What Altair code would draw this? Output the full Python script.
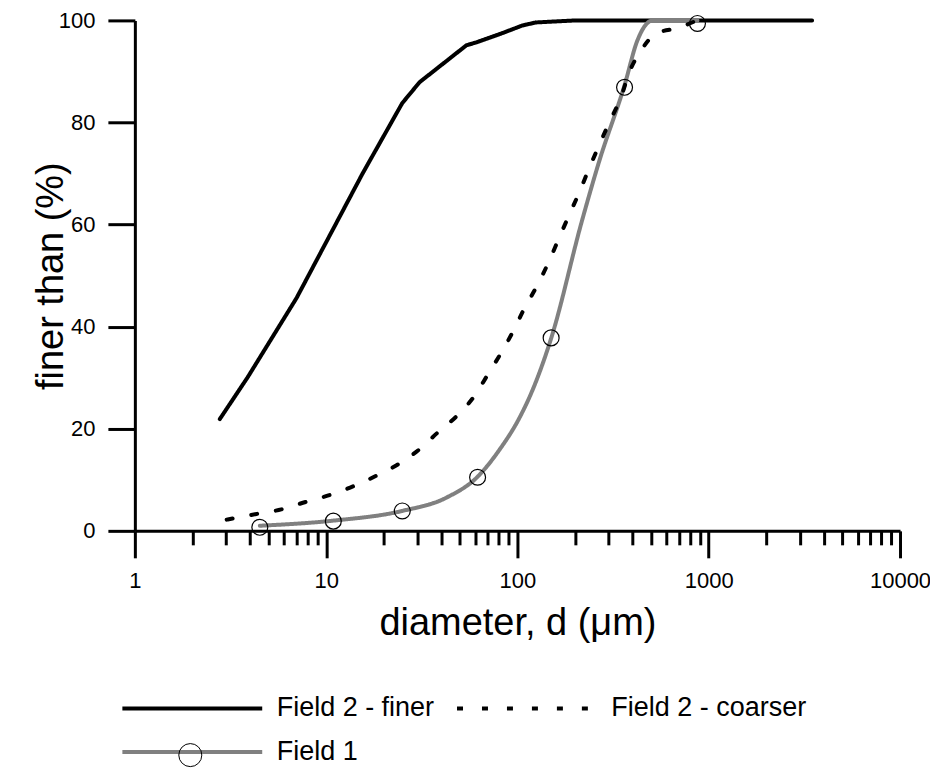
import altair as alt
import pandas as pd

# legend order (column-major fill): finer, Field 1 | coarser
SERIES = ["Field 2 - finer", "Field 1", "Field 2 - coarser"]

# Field 2 - finer (solid black)
fine_d = [2.78, 3.89, 7.0, 15.5, 25.0, 30.8, 54.0, 61.0, 80.6, 106.0, 125.0, 203.0, 3470.0]
fine_v = [21.9, 30.1, 45.6, 70.0, 83.8, 87.9, 95.1, 95.7, 97.3, 99.0, 99.6, 100.0, 100.0]

# Field 2 - coarser (dashed black)
coarse_d = [3.02, 4.32, 5.83, 7.87, 10.4, 13.8, 18.3, 24.2, 30.8, 38.4, 48.8, 59.5, 70.2,
            82.3, 94.6, 108.8, 127, 147, 166, 186, 211, 237, 267, 303, 348, 385, 443,
            529, 700, 855]
coarse_v = [2.2, 3.3, 4.2, 5.7, 7.0, 8.7, 10.8, 13.2, 16.0, 19.3, 22.7, 26.4, 30.7,
            34.9, 39.0, 43.6, 48.1, 53.0, 57.6, 61.8, 66.4, 71.0, 75.5, 80.1, 85.0, 89.9,
            94.1, 97.4, 98.6, 99.9]

# Field 1 (grey fitted curve)
field1_d = [4.5, 10.9, 25, 42.5, 61.9, 80.6, 102, 120, 150, 218, 267, 363, 424, 509, 873]
field1_v = [1.0, 2.0, 3.9, 6.5, 10.6, 15.9, 22.0, 27.6, 37.7, 60.9, 72.3, 87.3, 96.1, 100, 100]

# Field 1 measured points (open circles)
marker_d = [4.5, 10.9, 25, 61.9, 150, 363, 873]
marker_v = [0.7, 1.9, 3.9, 10.5, 37.8, 86.9, 99.4]

x_major = [1, 10, 100, 1000, 10000]
x_minor = [2, 3, 4, 5, 6, 7, 8, 9,
           20, 30, 40, 50, 60, 70, 80, 90,
           200, 300, 400, 500, 600, 700, 800, 900,
           2000, 3000, 4000, 5000, 6000, 7000, 8000, 9000]
y_ticks = [0, 20, 40, 60, 80, 100]

df_fine = pd.DataFrame({"d": fine_d, "v": fine_v, "series": "Field 2 - finer"})
df_coarse = pd.DataFrame({"d": coarse_d, "v": coarse_v, "series": "Field 2 - coarser"})
df_f1 = pd.DataFrame({"d": field1_d, "v": field1_v, "series": "Field 1"})
df_mark = pd.DataFrame({"d": marker_d, "v": marker_v, "marker": "Field 1"})

FONT = "Liberation Sans"

xscale = alt.Scale(type="log", domain=[1, 10000], nice=False)
yscale = alt.Scale(domain=[0, 100], nice=False)
color_scale = alt.Scale(domain=SERIES, range=["#000000", "#808080", "#000000"])
dash_scale = alt.Scale(domain=SERIES, range=[[1, 0], [1, 0], [6, 19]])

major_axis = alt.Axis(values=x_major, format="d", orient="bottom", tickSize=27, tickWidth=3,
                      domainWidth=3, tickColor="black", domainColor="black",
                      labelFontSize=22, labelPadding=13, labelColor="black", labelFont=FONT,
                      labelFlush=False, title="diameter, d (\u03bcm)", titleFontSize=38,
                      titleFontWeight="normal", titleColor="black", titleFont=FONT,
                      titlePadding=13, grid=False)
minor_axis = alt.Axis(values=x_minor, orient="bottom", tickSize=14, tickWidth=3,
                      tickColor="black", domain=False, labels=False, title="", grid=False)
yaxis = alt.Axis(values=y_ticks, tickSize=27, tickWidth=3, domainWidth=3, tickColor="black",
                 domainColor="black", labelFontSize=22, labelPadding=13, labelColor="black",
                 labelFont=FONT, title="finer than (%)", titleFontSize=38,
                 titleFontWeight="normal", titleColor="black", titleFont=FONT,
                 titleX=-64, grid=False)

legA = alt.Legend(title=None, orient="none", legendX=-16, legendY=675, columns=2,
                  columnPadding=14, rowPadding=16, symbolType="M-1,0H13", symbolSize=400,
                  symbolStrokeWidth=4, labelFontSize=27, labelOffset=131, labelFont=FONT,
                  labelColor="black", labelLimit=0, padding=0)
legB = alt.Legend(title=None, orient="none", legendX=43, legendY=723, symbolType="circle",
                  symbolSize=531, symbolStrokeWidth=1, symbolStrokeColor="black",
                  symbolFillColor="transparent", labelExpr="''", padding=0)


def line_layer(df, axis, interp):
    return alt.Chart(df).mark_line(strokeWidth=4, strokeCap="round", interpolate=interp).encode(
        x=alt.X("d:Q", scale=xscale, axis=axis),
        y=alt.Y("v:Q", scale=yscale, axis=yaxis),
        color=alt.Color("series:N", scale=color_scale, legend=legA),
        strokeDash=alt.StrokeDash("series:N", scale=dash_scale, legend=legA),
    )


l_fine = line_layer(df_fine, major_axis, "linear")
l_f1 = line_layer(df_f1, None, "monotone")
l_coarse = line_layer(df_coarse, None, "monotone")

pts = alt.Chart(df_mark).mark_point(filled=False, size=254, strokeWidth=1.2, color="black",
                                    opacity=1).encode(
    x=alt.X("d:Q", scale=xscale, axis=minor_axis),
    y=alt.Y("v:Q", scale=yscale, axis=yaxis),
    shape=alt.Shape("marker:N", scale=alt.Scale(domain=["Field 1"], range=["circle"]), legend=legB),
)

chart = alt.layer(l_fine, l_f1, l_coarse, pts).resolve_axis(x="independent").properties(
    width=766, height=511,
    autosize=alt.AutoSizeParams(type="none"),
    padding={"left": 127, "top": 12, "right": 30, "bottom": 238},
).configure(font=FONT).configure_view(strokeWidth=0)

chart.save("out.html", embed_options={"renderer": "svg", "actions": False})
